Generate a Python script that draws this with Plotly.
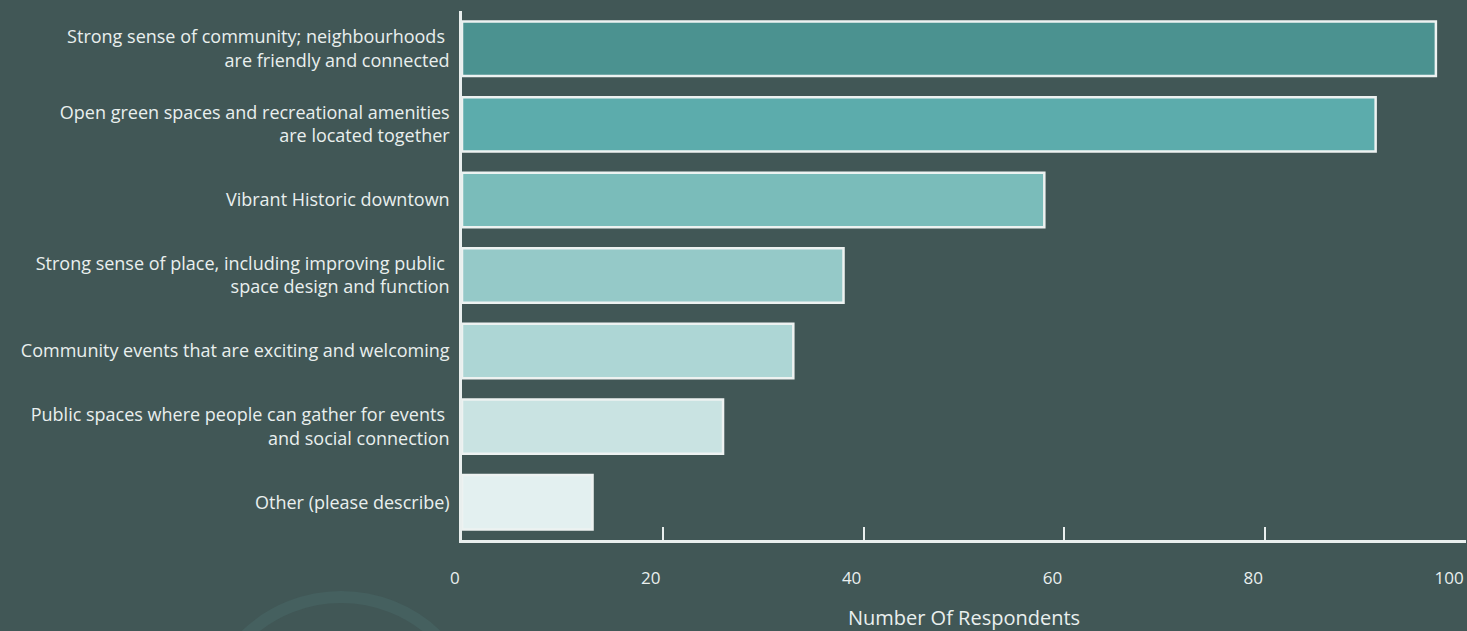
import plotly.graph_objects as go

# Survey responses: what makes the community a great place
categories = [
    "Strong sense of community; neighbourhoods <br>are friendly and connected",
    "Open green spaces and recreational amenities<br>are located together",
    "Vibrant Historic downtown",
    "Strong sense of place, including improving public <br>space design and function",
    "Community events that are exciting and welcoming",
    "Public spaces where people can gather for events <br>and social connection",
    "Other (please describe)",
]
respondents = [97, 91, 58, 38, 33, 26, 13]
bar_colors = ["#4b9290", "#5cacac", "#7abcba", "#95c9c8", "#add6d5", "#c9e3e2", "#e3f0f0"]
x_ticks = [0, 20, 40, 60, 80, 100]

BG = "#415756"
TEXT = "#e9efee"

fig = go.Figure()
fig.add_trace(go.Bar(
    x=respondents,
    y=categories,
    orientation="h",
    width=0.72,
    marker=dict(color=bar_colors, line=dict(color="#edf2f1", width=2.5)),
    hoverinfo="x+y",
))

# faint decorative ring in the lower-left corner
fig.add_shape(
    type="circle", xref="paper", yref="paper", layer="below",
    x0=(203 - 462) / 1005, x1=(479 - 462) / 1005,
    y0=(540 - 873) / 529, y1=(540 - 597) / 529,
    line=dict(color="#45605f", width=12),
)

fig.update_layout(
    width=1467, height=631,
    paper_bgcolor=BG, plot_bgcolor=BG,
    margin=dict(l=462, r=1, t=11, b=91),
    font=dict(family="Open Sans, sans-serif", color=TEXT, size=18),
    showlegend=False,
    bargap=0.28,
)
fig.update_xaxes(
    range=[0, 100],
    tickvals=x_ticks,
    ticks="inside", ticklen=13, tickwidth=2, tickcolor=TEXT,
    showline=True, linecolor=TEXT, linewidth=2.5,
    showgrid=False, zeroline=False,
    ticklabelposition="outside left", ticklabelstandoff=21,
    tickfont=dict(size=17, color=TEXT),
    title=dict(text="Number Of Respondents", font=dict(size=20, color=TEXT), standoff=26),
)
fig.update_yaxes(
    autorange="reversed",
    ticks="", showline=True, linecolor=TEXT, linewidth=2.5,
    showgrid=False, zeroline=False,
    ticklabelstandoff=6,
    tickfont=dict(size=18, color=TEXT),
)

fig.write_html("out.html")
